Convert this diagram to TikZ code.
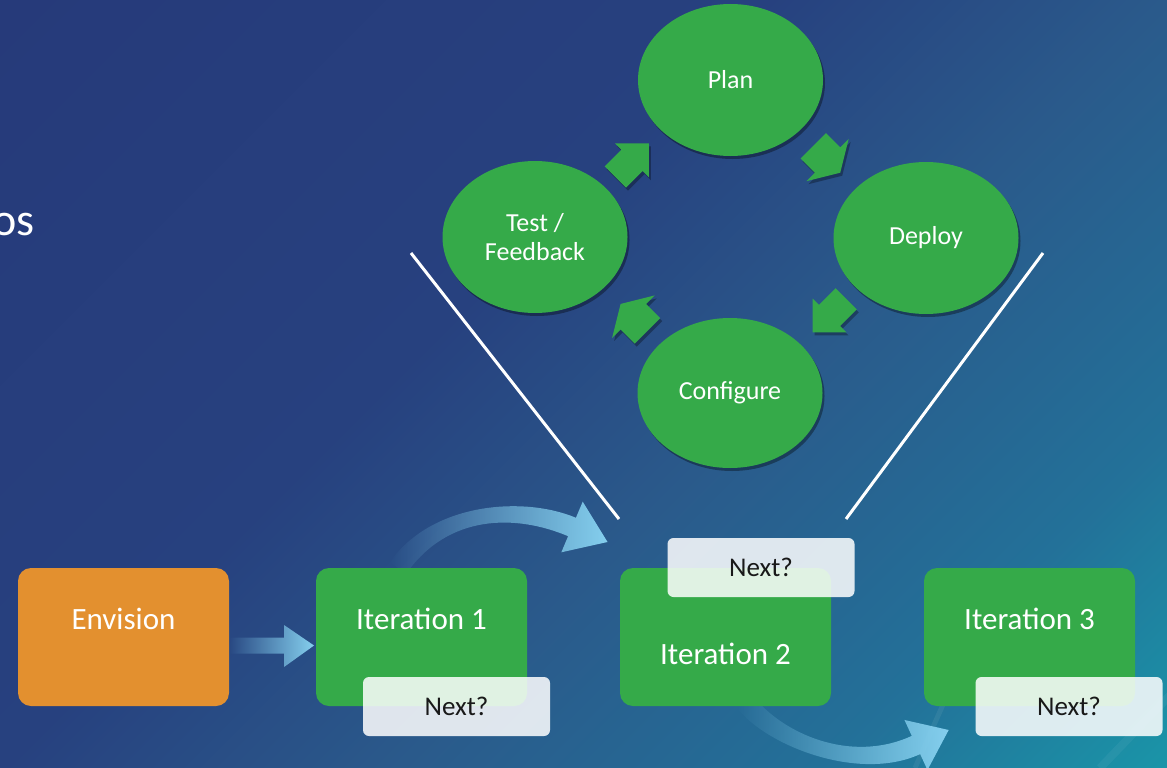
\documentclass[tikz,border=0pt]{standalone}
\usepackage{fontspec}
\setmainfont{Carlito}
\usetikzlibrary{shapes.geometric,shadows,fadings,calc}

\definecolor{bgA}{HTML}{263A7A}
\definecolor{bgB}{HTML}{27417F}
\definecolor{bgC}{HTML}{2A5A8B}
\definecolor{bgM}{HTML}{237199}
\definecolor{bgD}{HTML}{1A95A8}
\definecolor{grn}{HTML}{35AA49}
\definecolor{org}{HTML}{E3902F}
\definecolor{arw}{HTML}{85CFEE}

\pgfdeclarehorizontalshading{bgshade}{100bp}{color(0bp)=(bgA); color(25.6bp)=(bgA); color(45bp)=(bgB); color(55bp)=(bgC); color(66bp)=(bgM); color(74.4bp)=(bgD); color(100bp)=(bgD)}
\tikzfading[name=fadein, left color=transparent!100, right color=transparent!0]

\begin{document}
\begin{tikzpicture}[x=1pt,y=-1pt,
  cyc/.style={ellipse, fill=grn, draw=none, minimum width=185pt, minimum height=152pt,
    inner sep=0pt, text=white, font=\fontsize{26}{29}\selectfont, align=center,
    drop shadow={shadow xshift=2pt, shadow yshift=-3pt, opacity=.35, fill=black}},
  gbox/.style={rectangle, rounded corners=13pt, fill=grn, minimum width=211pt, minimum height=138pt, inner sep=0pt},
  obox/.style={gbox, fill=org},
  lbl/.style={text=white, font=\fontsize{31}{36}\selectfont, inner sep=0pt},
  nxt/.style={rectangle, rounded corners=6pt, fill=white, fill opacity=.85, text opacity=1,
    text=black!90, minimum width=187pt, minimum height=59pt, inner sep=0pt,
    font=\fontsize{27}{32}\selectfont},
  wline/.style={white, line width=3pt},
  carrow/.style={fill=arw, path fading=fadein},
  arrA/.pic={\path[pic actions] (-23.6,-15) -- (0,-15) -- (0,-24) -- (24,0) -- (0,24) -- (0,15) -- (-23.6,15) -- cycle;},
  arrB/.pic={\path[pic actions] (-20,-18) -- (0,-18) -- (0,-30) -- (18,0) -- (0,30) -- (0,18) -- (-20,18) -- cycle;},
  shd/.style={fill=black, opacity=.3},
]
\useasboundingbox (0,0) rectangle (1167,768);

% background
\begin{scope}
  \clip (0,0) rectangle (1167,768);
  \begin{scope}[transform canvas={rotate around={-45:(583.5,384)}}]
    \shade[shading=bgshade] (-116.5,-316) rectangle (1283.5,1084);
  \end{scope}
  \draw[white, opacity=.06, line width=5pt] (945,700) -- (915,768);
  \draw[white, opacity=.05, line width=8pt] (1175,690) -- (1100,768);
\end{scope}

% partial title text
\node[text=white, font=\fontsize{46}{50}\selectfont, inner sep=0pt, anchor=base east] (title) at (35,235) {os};

% white funnel lines
\coordinate (l1a) at (411,253);
\coordinate (l1b) at (619,519);
\coordinate (l2a) at (1043,253);
\coordinate (l2b) at (846,519);
\draw[wline] (l1a) -- (l1b);
\draw[wline] (l2a) -- (l2b);

% cycle ellipses
\node[cyc] (plan) at (730.5,80) {Plan};
\node[cyc] (test) at (535,237) {Test /\\Feedback};
\node[cyc] (deploy) at (926,238) {Deploy};
\node[cyc, minimum height=150pt] (conf) at (730,393) {Configure};

% cycle arrows
\pic[rotate=45, shd] at (634,163.3) {arrA};
\pic[rotate=45, fill=grn] (a1) at (632,160.3) {arrA};
\pic[rotate=-45, shd] at (829.5,163) {arrB};
\pic[rotate=-45, fill=grn] (a2) at (827.5,160) {arrB};
\pic[rotate=225, shd] at (831.5,318.5) {arrA};
\pic[rotate=225, fill=grn] (a3) at (829.5,315.5) {arrA};
\pic[rotate=135, shd] at (635.3,319.7) {arrB};
\pic[rotate=135, fill=grn] (a4) at (633.3,316.7) {arrB};

% light blue arrows
\fill[carrow] (229,637.5) -- (284,637.5) -- (284,625) -- (314,645.5) -- (284,667) -- (284,653.5) -- (229,653.5) -- cycle;
\fill[carrow] (389.8,562.3) .. controls (431.8,502.3) and (523.9,495.8) .. (575.9,517.8)
  -- (582.7,501.7) -- (607.5,542) -- (561.3,552.3) -- (568.1,536.2)
  .. controls (516.1,514.2) and (448.2,513.7) .. (406.2,573.7) -- cycle;
\fill[carrow] (752.9,695.8) .. controls (782.9,733.8) and (850.8,763.9) .. (911.8,735.9)
  -- (904.5,720) -- (948.7,730) -- (927.5,770) -- (920.2,754.1)
  .. controls (859.2,782.1) and (767.2,746.2) .. (737.2,708.2) -- cycle;

% bottom boxes
\node[obox] (env) at (123.5,637) {};
\node[gbox] (it1) at (421.5,637) {};
\node[gbox] (it2) at (725.5,637) {};
\node[gbox] (it3) at (1029.5,637) {};
\node[lbl] (envt) at ([yshift=18pt]env.center) {Envision};
\node[lbl] (it1t) at ([yshift=18pt]it1.center) {Iteration 1};
\node[lbl] (it2t) at ([yshift=-17pt]it2.center) {Iteration 2};
\node[lbl] (it3t) at ([yshift=18pt]it3.center) {Iteration 3};

% Next? boxes
\node[nxt] (n1) at (456.5,706.5) {Next?};
\node[nxt] (n2) at (761,567.5) {Next?};
\node[nxt] (n3) at (1069,706.5) {Next?};
\end{tikzpicture}
\end{document}
